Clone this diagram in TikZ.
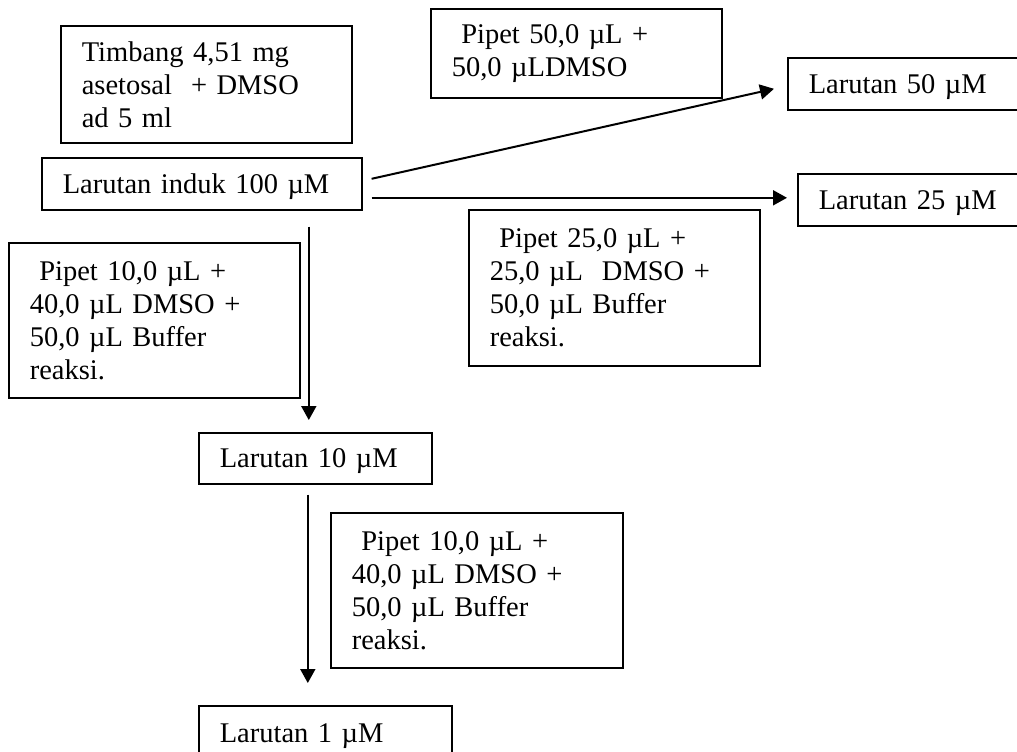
\documentclass[tikz,border=0pt]{standalone}
\usepackage{fontspec}
\setmainfont{Liberation Serif}
\usetikzlibrary{arrows.meta}

\newcommand*{\unitpx}{0.5pt}

\begin{document}
\begin{tikzpicture}[x=0.5pt,y=-0.5pt,
    every node/.style={font=\fontsize{14.25}{16.5}\selectfont},
    flowbox/.style 2 args={draw, line width=0.8pt, anchor=north west,
      align=left, inner xsep=10.5pt, inner ysep=0pt,
      minimum width=#1*\unitpx, text width=#1*\unitpx-21pt,
      minimum height=#2*\unitpx},
    onebox/.style 2 args={flowbox={#1}{#2}, text depth=0pt},
    link/.style={line width=1pt, -{Triangle[length=7pt,width=7.5pt]}}]

    \useasboundingbox (0,0) rectangle (1017,751);
    \clip (0,0) rectangle (1017,751);

    \node[flowbox={291}{117}] (timbang) at (60,25)
    {Timbang 4,51 mg\\asetosal~ + DMSO\\ad 5 ml};
    \node[onebox={320}{52}] (induk) at (41,157) {Larutan induk 100 µM};

    \node[flowbox={291}{89}] (pipA) at (430,8)
    {~Pipet 50,0 µL +\\50,0 µLDMSO};
    \node[onebox={260}{52}] (lar50) at (787,57) {Larutan 50 µM};
    \node[onebox={250}{52}] (lar25) at (797,173) {Larutan 25 µM};
    \node[flowbox={291}{156}] (pipB) at (468,209)
    {~Pipet 25,0 µL +\\25,0 µL~ DMSO +\\50,0 µL Buffer\\reaksi.};

    \node[flowbox={291}{155}] (pipC) at (8,242)
    {~Pipet 10,0 µL +\\40,0 µL DMSO +\\50,0 µL Buffer\\reaksi.};
    \node[onebox={233}{51}] (lar10) at (198,432) {Larutan 10 µM};
    \node[flowbox={292}{155}] (pipD) at (330,512)
    {~Pipet 10,0 µL +\\40,0 µL DMSO +\\50,0 µL Buffer\\reaksi.};
    \node[onebox={253}{54}] (lar1) at (198,705) {Larutan 1 µM};

    \draw[link]
    ([xshift=9*\unitpx, yshift=5*\unitpx]induk.east) --
    ([xshift=-13*\unitpx, yshift=-5*\unitpx]lar50.west);

    \draw[link]
    ([xshift=9*\unitpx, yshift=-14*\unitpx]induk.east) coordinate (h0) --
    ([xshift=-10*\unitpx]h0 -| lar25.west);

    \draw[link]
    ([xshift=-6.5*\unitpx, yshift=-16*\unitpx]lar10.north |- induk.south) --
    ([xshift=-6.5*\unitpx, yshift=12*\unitpx]lar10.north);

    \draw[link]
    ([xshift=-7.5*\unitpx, yshift=-10*\unitpx]lar10.south) coordinate (v0) --
    ([yshift=22*\unitpx]v0 |- lar1.north);
  \end{tikzpicture}
\end{document}
